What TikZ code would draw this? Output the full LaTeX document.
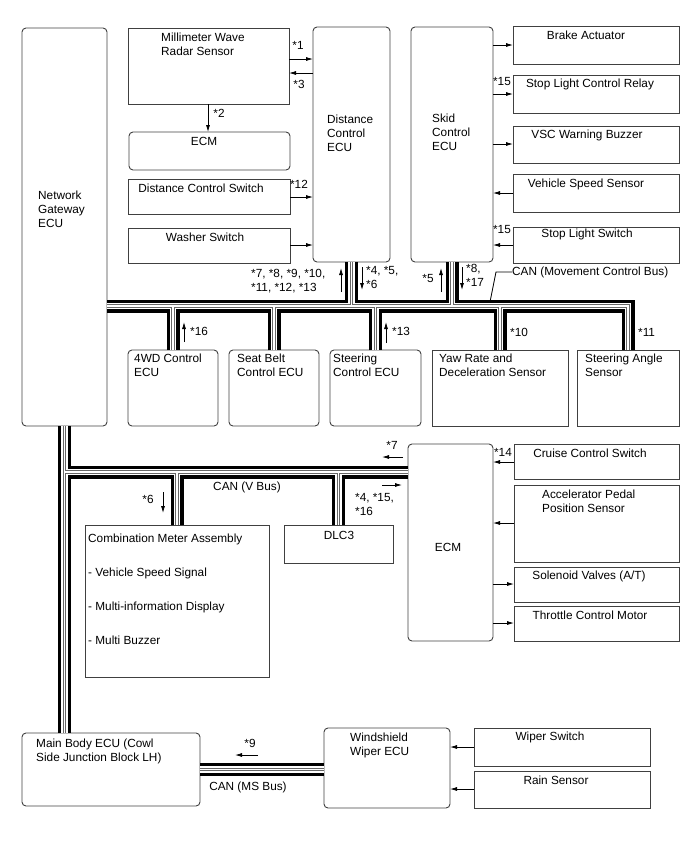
\documentclass[tikz,border=0pt]{standalone}
\usepackage{fontspec}
\setmainfont{Liberation Sans}
\usetikzlibrary{arrows.meta}

\tikzset{
  boite/.style={draw=black!75, line width=0.9pt, inner sep=0pt, outer sep=0pt, anchor=north west},
  arrondi/.style={boite, rounded corners=4pt},
  txt/.style={inner sep=0pt, font=\fontsize{11.8}{14}\selectfont, align=left},
  fleche/.style={line width=0.8pt, -{Latex[length=7pt, width=4pt]}},
  can/.style={line width=3.3pt, double=white, double distance=6.4pt,
    postaction={draw=black!60, line width=0.8pt, double=white, double distance=1.6pt}}
}

\begin{document}
\begin{tikzpicture}[x=1pt, y=-1pt] % 688 x 852 pt, axe y vers le bas
  \useasboundingbox (0,0) rectangle (688,852);

  % Boîtiers à angles droits
  \foreach \nom/\xa/\ya/\xb/\yb in {mwr/128/28/289/104, dcs/128/179/290/214, wsw/128/228/290/263,
      brk/513/26/679/64, slr/513/75/679/113, vsc/513/126/679/163, vss/513/174/679/212, sls/513/227/679/263,
      yaw/432/350/568/426, sas/577/350/679/426, cma/85/525/269/677, dlc/284/525/393/563,
      ccs/514/444/679/479, apd/514/485/679/562, sol/514/567/679/602, thr/514/606/679/641,
      wps/474/728/650/766, rns/474/771/650/808} {
    \node[boite, minimum width=\xb-\xa, minimum height=\yb-\ya] (\nom) at (\xa,\ya) {};
  }

  % Boîtiers arrondis
  \foreach \nom/\xa/\ya/\xb/\yb in {ngw/22/28/107/426, ecmA/129/132/290/170, dc/313/27/390/262,
      skid/411/27/493/262, fwd/128/350/218/426, sbc/229/350/319/426, stc/330/350/421/426,
      ecmB/408/444/493/641, mb/22/733/200/806, wwe/324/728/450/808} {
    \node[arrondi, minimum width=\xb-\xa, minimum height=\yb-\ya] (\nom) at (\xa,\ya) {};
  }

  % Bus CAN
  \draw[can] (ngw.east |- 0,306) -| (sas.north)
    (dc.south) -- (dc.south |- 0,306)
    (skid.south) -- (skid.south |- 0,306)
    (fwd.north) -- (fwd.north |- 0,306)
    (sbc.north) -- (sbc.north |- 0,306)
    (stc.north) -- (stc.north |- 0,306)
    (yaw.north) -- (yaw.north |- 0,306);
  \draw[can] (ngw.south) -- (ngw.south |- mb.north)
    (ngw.south |- 0,472) -- (ecmB.west |- 0,472)
    (cma.north) -- (cma.north |- 0,472)
    (dlc.north) -- (dlc.north |- 0,472);
  \draw[can] (mb.east) -- (mb.east -| wwe.west);

  % Liaisons
  \draw[fleche] (mwr.east |- 0,59) -- (dc.west |- 0,59);
  \draw[fleche] (dc.west |- 0,73) -- (mwr.east |- 0,73);
  \draw[fleche] (mwr.south -| 208,0) -- (ecmA.north -| 208,0);
  \draw[fleche] (dcs.east |- 0,197) -- (dc.west |- 0,197);
  \draw[fleche] (wsw.east |- 0,245) -- (dc.west |- 0,245);
  \foreach \nom/\y in {brk/45, slr/94, vsc/144}
    \draw[fleche] (skid.east |- 0,\y) -- (\nom.west |- 0,\y);
  \foreach \nom/\y in {vss/193, sls/245}
    \draw[fleche] (\nom.west |- 0,\y) -- (skid.east |- 0,\y);
  \foreach \nom/\y in {ccs/462, apd/523}
    \draw[fleche] (\nom.west |- 0,\y) -- (ecmB.east |- 0,\y);
  \foreach \nom/\y in {sol/584, thr/623}
    \draw[fleche] (ecmB.east |- 0,\y) -- (\nom.west |- 0,\y);
  \foreach \nom/\y in {wps/747, rns/789}
    \draw[fleche] (\nom.west |- 0,\y) -- (wwe.east |- 0,\y);

  % Sens des messages
  \foreach \xa/\ya/\xb/\yb in {341/292/341/268, 362/267/362/290, 441/292/441/268, 462/267/462/290,
      184/342/184/322, 386/343/386/322, 403/457/382/457, 382/485/402/485, 163/492/163/513,
      258/755/235/755}
    \draw[fleche] (\xa,\ya) -- (\xb,\yb);

  % Textes à gauche
  \foreach \nom/\x/\y/\txt in {tngw/38/191/{Network\\Gateway\\ECU},
      tmwr/161/33/{Millimeter Wave\\Radar Sensor}, tdc/327/115/{Distance\\Control\\ECU},
      tskid/432/114/{Skid\\Control\\ECU}, tfwd/134/354/{4WD Control\\ECU},
      tsbc/237/354/{Seat Belt\\Control ECU}, tstc/333/354/{Steering\\Control ECU},
      tyaw/439/354/{Yaw Rate and\\Deceleration Sensor}, tsas/585/354/{Steering Angle\\Sensor},
      tcma/88/534/{Combination Meter Assembly\\[20pt]- Vehicle Speed Signal\\[20pt]- Multi-information Display\\[20pt]- Multi Buzzer},
      tapd/542/490/{Accelerator Pedal\\Position Sensor},
      tmb/36/739/{Main Body ECU (Cowl\\Side Junction Block LH)}, twwe/350/733/{Windshield\\Wiper ECU},
      n7a/251/269/{*7, *8, *9, *10,\\*11, *12, *13}, n4a/366/266/{*4, *5,\\*6},
      n8/466/264/{*8,\\*17}, n4b/355/493/{*4, *15,\\*16}}
    \node[txt, anchor=north west] (\nom) at (\x,\y) {\txt};

  % Textes centrés
  \foreach \nom/\x/\y/\txt in {tecmA/204/141/ECM, tdcs/201/188/Distance Control Switch,
      twsw/205/237/Washer Switch, tbrk/586/35/Brake Actuator, tslr/590/84/Stop Light Control Relay,
      tvsc/587/135/VSC Warning Buzzer, tvss/586/184/Vehicle Speed Sensor, tsls/587/234/Stop Light Switch,
      tdlc/339/535/DLC3, tecmB/448/547/ECM, tccs/590/453/Cruise Control Switch,
      tsol/589/576/{Solenoid Valves (A/T)}, tthr/590/615/Throttle Control Motor,
      twps/550/737/Wiper Switch, trns/556/780/Rain Sensor,
      n1/298/45/*1, n3/299/84/*3, n2/219/113/*2, n12/299/184/*12, n15a/502/81/*15, n15b/502/229/*15,
      n5/428/278/*5, n7b/392/445/*7, n6/148/499/*6, n14/503/452/*14, n9/250/743/*9,
      cvb/247/487/CAN (V Bus), cms/248/787/CAN (MS Bus)}
    \node[txt] (\nom) at (\x,\y) {\txt};

  % Textes ancrés à gauche
  \foreach \nom/\x/\y/\txt in {n16/190/331/*16, n13/392/331/*13, n10/510/332/*10, n11/638/332/*11,
      mcb/512/272/CAN (Movement Control Bus)}
    \node[txt, anchor=west] (\nom) at (\x,\y) {\txt};

  % Repère du bus
  \coordinate (mcbtap) at (490,302);
  \draw[line width=0.8pt] (mcb.west) -- ++(-16,0) -- (mcbtap);
\end{tikzpicture}
\end{document}
